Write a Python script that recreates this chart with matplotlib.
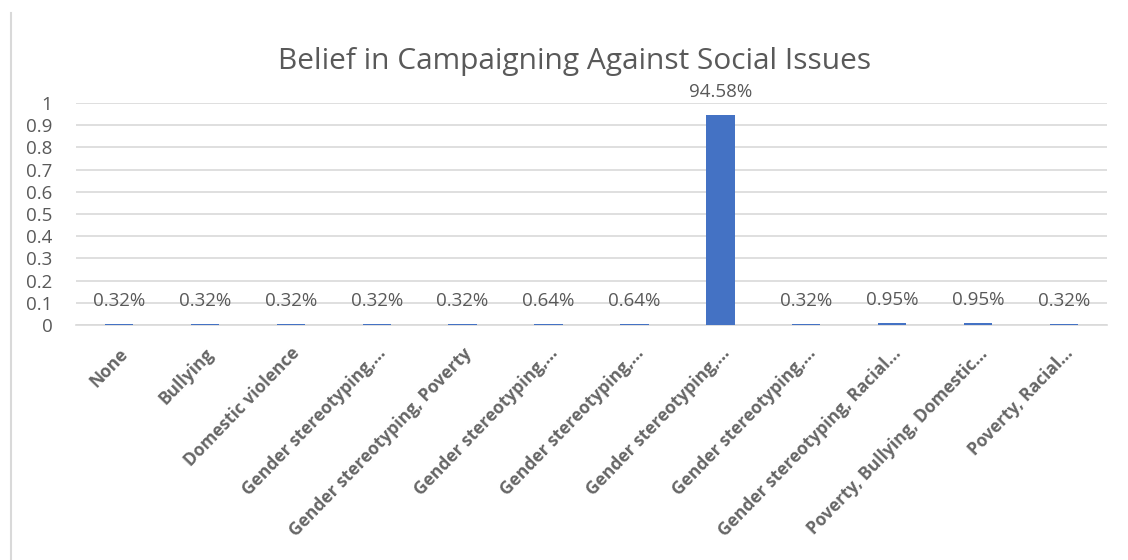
import matplotlib
matplotlib.use("Agg")
import matplotlib.pyplot as plt
from matplotlib.lines import Line2D

categories = [
    "None",
    "Bullying",
    "Domestic violence",
    "Gender stereotyping,...",
    "Gender stereotyping, Poverty",
    "Gender stereotyping,...",
    "Gender stereotyping,...",
    "Gender stereotyping,...",
    "Gender stereotyping,...",
    "Gender stereotyping, Racial...",
    "Poverty, Bullying, Domestic...",
    "Poverty, Racial...",
]
shares = [0.0032, 0.0032, 0.0032, 0.0032, 0.0032, 0.0064,
          0.0064, 0.9458, 0.0032, 0.0095, 0.0095, 0.0032]
yticks = [0, 0.1, 0.2, 0.3, 0.4, 0.5, 0.6, 0.7, 0.8, 0.9, 1]
ytick_labels = ["0", "0.1", "0.2", "0.3", "0.4", "0.5", "0.6", "0.7", "0.8", "0.9", "1"]

plt.rcParams['font.family'] = ['Open Sans', 'DejaVu Sans']
text_gray = '#595959'
grid_gray = '#d9d9d9'
bar_blue = '#4472C4'

fig = plt.figure(figsize=(11.28, 5.6), dpi=100)
ax = fig.add_axes([76 / 1128, 1 - 325 / 560, (1107 - 76) / 1128, (325 - 103) / 560])

x = list(range(len(categories)))
bars = ax.bar(x, shares, width=0.33, color=bar_blue, zorder=3)

for xi, v in zip(x, shares):
    ax.annotate(f"{v:.2%}", (xi, v), xytext=(0, 16.5), textcoords='offset points',
                ha='center', va='center', fontsize=13.5, color=text_gray, zorder=4)

ax.set_xlim(-0.5, len(categories) - 0.5)
ax.set_ylim(0, 1)
ax.set_yticks(yticks)
ax.set_yticklabels(ytick_labels, fontsize=13.5, color=text_gray)
ax.set_xticks(x)
ax.set_xticklabels(categories, rotation=46, ha='right', rotation_mode='anchor',
                   fontsize=12.5, fontweight='bold', color='#666666')
ax.tick_params(axis='both', length=0)
ax.tick_params(axis='y', pad=17)
ax.tick_params(axis='x', pad=14)
ax.grid(axis='y', color=grid_gray, linewidth=1.2, zorder=0)
for side in ['top', 'right', 'left']:
    ax.spines[side].set_visible(False)
ax.spines['bottom'].set_color(grid_gray)
ax.spines['bottom'].set_linewidth(1.2)

fig.text(575 / 1128, 1 - 61 / 560, "Belief in Campaigning Against Social Issues",
         ha='center', va='center', fontsize=21.5, color=text_gray)

# thin frame edge on the left side of the chart area
fig.add_artist(Line2D([11 / 1128, 11 / 1128], [0, 1 - 13 / 560],
                      transform=fig.transFigure, color=grid_gray, linewidth=1.5))

fig.savefig("out.png", dpi=100, facecolor='white')
